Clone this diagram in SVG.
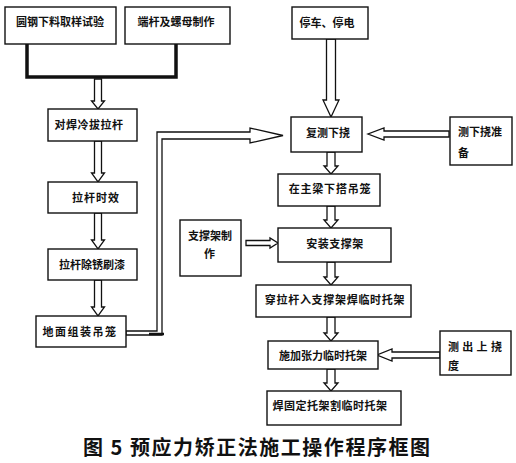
<svg xmlns="http://www.w3.org/2000/svg" width="516" height="463" viewBox="0 0 516 463">
<defs>
<style>
.box{fill:#fff;stroke:#111;stroke-width:1.4}
.t{font-family:"Noto Sans CJK SC","Noto Sans CJK TC",sans-serif;font-size:11px;font-weight:bold;fill:#111}
.ha{fill:#fff;stroke:#111;stroke-width:1.3;stroke-linejoin:miter}
.cap{font-family:"Noto Sans CJK SC","Liberation Sans",sans-serif;font-size:20px;font-weight:bold;fill:#111}
</style>
</defs>
<rect width="516" height="463" fill="#fff"/>
<g id="connectors">
<path d="M27,44 V77 H176 V44" fill="none" stroke="#111" stroke-width="3.5"/>
<polygon class="ha" points="94.5,79 101.5,79 101.5,101 104.5,101 98,109 91.5,101 94.5,101"/>
<polygon class="ha" points="94.5,141 101.5,141 101.5,173 104.5,173 98,182 91.5,173 94.5,173"/>
<polygon class="ha" points="94.5,213 101.5,213 101.5,240 104.5,240 98,249 91.5,240 94.5,240"/>
<polygon class="ha" points="94.5,280 101.5,280 101.5,307 104.5,307 98,316 91.5,307 94.5,307"/>
<polygon class="ha" points="326.5,39 335.5,39 335.5,100 339,100 331,117 323,100 326.5,100"/>
<polygon class="ha" points="327,152 335,152 335,166 338,166 331,174 324,166 327,166"/>
<polygon class="ha" points="327,206 335,206 335,220 338,220 331,228 324,220 327,220"/>
<polygon class="ha" points="327,262 335,262 335,277 338,277 331,285 324,277 327,277"/>
<polygon class="ha" points="327,317 335,317 335,333 338,333 331,341 324,333 327,333"/>
<polygon class="ha" points="327,369 335,369 335,383 338,383 331,391 324,383 327,383"/>
<polygon class="ha" points="449,131 384,131 384,128 368,134 384,140 384,137 449,137"/>
<polygon class="ha" points="246,240.5 270,240.5 270,238 278,243 270,248 270,245.5 246,245.5"/>
<polygon class="ha" points="440,352 392,352 392,349 377,355 392,361 392,358 440,358"/>
<polygon class="ha" points="126,331 157,331 157,132 250,132 250,128 283,135.5 250,143 250,139 162,139 162,335 126,335"/>
<line x1="149" y1="334" x2="164" y2="334" stroke="#111" stroke-width="2.5"/>
</g>
<g id="n1"><rect class="box" x="5" y="7" width="111" height="37"/><text class="t" x="60" y="26" text-anchor="middle">圆钢下料取样试验</text></g>
<g id="n2"><rect class="box" x="125" y="7" width="105" height="37"/><text class="t" x="176" y="26" text-anchor="middle">端杆及螺母制作</text></g>
<g id="n3"><rect class="box" x="292" y="7" width="76" height="32"/><text class="t" x="327" y="27" text-anchor="middle">停车、停电</text></g>
<g id="n4"><rect class="box" x="48" y="109" width="89" height="32"/><text class="t" x="89" y="129" text-anchor="middle" letter-spacing="0.5">对焊冷拔拉杆</text></g>
<g id="n5"><rect class="box" x="291" y="117" width="71" height="35"/><text class="t" x="328" y="137" text-anchor="middle">复测下挠</text></g>
<g id="n6"><rect class="box" x="450" y="117" width="62" height="48"/><text class="t" x="458" y="136">测下挠准</text><text class="t" x="458" y="157">备</text></g>
<g id="n7"><rect class="box" x="278" y="174" width="102" height="32"/><text class="t" x="330" y="193" text-anchor="middle" letter-spacing="0.8">在主梁下搭吊笼</text></g>
<g id="n8"><rect class="box" x="48" y="182" width="89" height="31"/><text class="t" x="96" y="202" text-anchor="middle" letter-spacing="1">拉杆时效</text></g>
<g id="n9"><rect class="box" x="48" y="249" width="89" height="31"/><text class="t" x="92" y="269" text-anchor="middle">拉杆除锈刷漆</text></g>
<g id="n10"><rect class="box" x="36" y="316" width="90" height="31"/><text class="t" x="80" y="336" text-anchor="middle" letter-spacing="1.5">地面组装吊笼</text></g>
<g id="n11"><rect class="box" x="180" y="220" width="61" height="56"/><text class="t" x="188" y="240">支撑架制</text><text class="t" x="204" y="258">作</text></g>
<g id="n12"><rect class="box" x="278" y="228" width="113" height="34"/><text class="t" x="335" y="248" text-anchor="middle" letter-spacing="0.5">安装支撑架</text></g>
<g id="n13"><rect class="box" x="256" y="285" width="155" height="32"/><text class="t" x="335" y="304" text-anchor="middle" letter-spacing="0.7">穿拉杆入支撑架焊临时托架</text></g>
<g id="n14"><rect class="box" x="268" y="341" width="110" height="28"/><text class="t" x="323" y="360" text-anchor="middle">施加张力临时托架</text></g>
<g id="n15"><rect class="box" x="440" y="331" width="71" height="44"/><text class="t" x="448" y="351" letter-spacing="3.3">测出上挠</text><text class="t" x="448" y="370">度</text></g>
<g id="n16"><rect class="box" x="267" y="391" width="134" height="34"/><text class="t" x="330" y="410" text-anchor="middle" letter-spacing="0.5">焊固定托架割临时托架</text></g>
<text class="cap" x="83" y="455" textLength="347" lengthAdjust="spacing">图 5 预应力矫正法施工操作程序框图</text>
</svg>
